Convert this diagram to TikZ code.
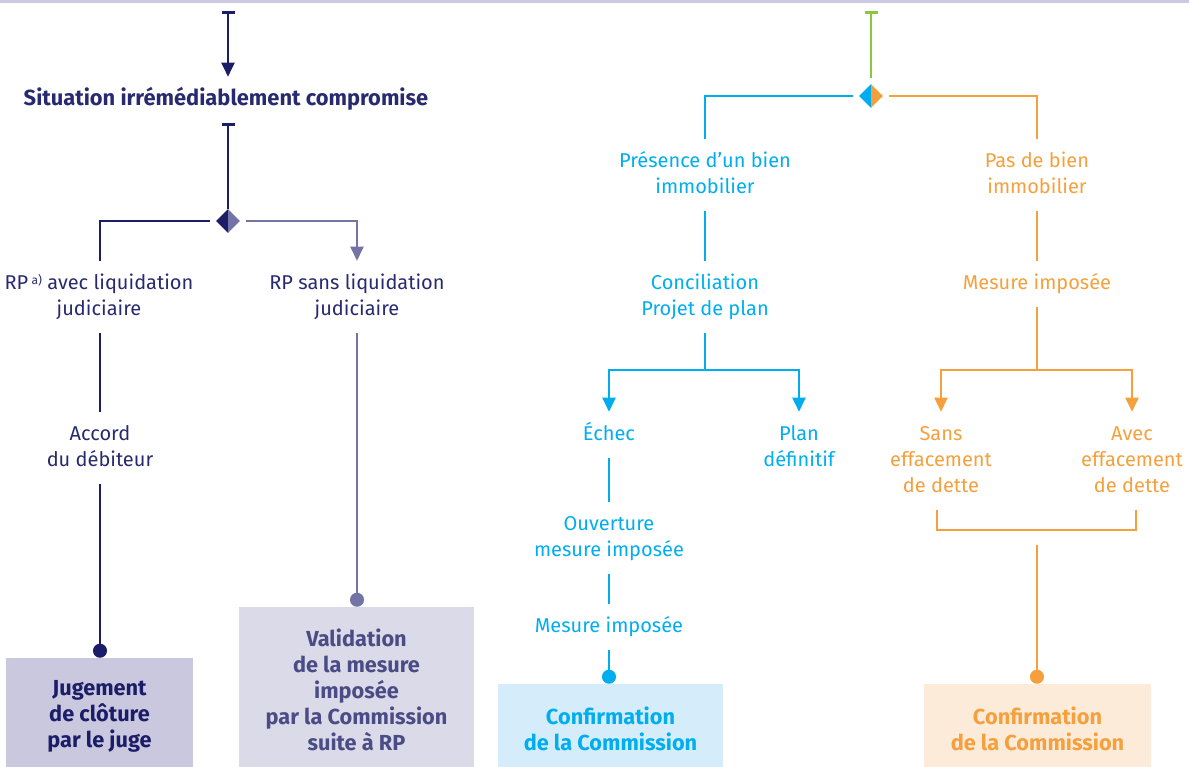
\documentclass[tikz,border=0pt]{standalone}
\usepackage{fontspec}
\setmainfont{Fira Sans}
\usetikzlibrary{arrows.meta,shapes.geometric}
\definecolor{navy}{RGB}{27,29,104}
\definecolor{navytext}{RGB}{40,42,112}
\definecolor{purp}{RGB}{116,115,166}
\definecolor{purptext}{RGB}{75,75,133}
\definecolor{boxA}{RGB}{201,200,222}
\definecolor{boxB}{RGB}{219,218,232}
\definecolor{cyanc}{RGB}{0,174,239}
\definecolor{boxC}{RGB}{213,237,250}
\definecolor{orng}{RGB}{245,160,60}
\definecolor{boxD}{RGB}{253,235,218}
\definecolor{grn}{RGB}{140,198,63}
\definecolor{topline}{RGB}{202,202,224}
\begin{document}
\begin{tikzpicture}[x=0.75pt,y=-0.75pt,
  lbl/.style={align=center,font=\fontsize{15}{19.5}\selectfont,inner xsep=0pt,inner ysep=7.5pt,yshift=-1.5pt},
  blbl/.style={lbl,font=\fontsize{16.4}{19.5}\selectfont\bfseries},
  conn/.style={line width=1.5pt},
  tri/.style={-{Triangle[length=10.5pt,width=9.75pt]}},
  barstart/.style={{Bar[width=9.75pt,line width=2.25pt]}-},
  topar/.style={{Bar[width=9.75pt,line width=2.25pt]}-{Triangle[length=10.5pt,width=9.75pt]}},
  dotend/.style={-{Circle[length=10.5pt]}},
  fbox/.style={align=center,font=\fontsize{16.3}{19.5}\selectfont\bfseries,inner sep=0pt},
  dia/.style={diamond,minimum width=17.25pt,minimum height=17.25pt,inner sep=0pt},
  gapstart/.style={shorten <=4.5pt}
]
\path[use as bounding box] (0,0) rectangle (1189,767);
\fill[topline] (0,0) rectangle (1189,3);

% ---------- left part ----------
\coordinate (tL) at (228,11);
\node[blbl,text=navytext] (sit) at (226,98) {\strut Situation irrémédiablement compromise};
\node[dia] (d1) at (228,221) {};
\fill[navy] (d1.north) -- (d1.west) -- (d1.south) -- cycle;
\fill[purp] (d1.north) -- (d1.east) -- (d1.south) -- cycle;

\node[lbl,text=navytext] (n1) at (99,295) {\strut RP\,{\fontsize{9}{9}\selectfont\raisebox{0.7ex}{a)}} avec liquidation\\\strut judiciaire};
\node[lbl,text=navytext] (n2) at (357,295) {\strut RP sans liquidation\\\strut judiciaire};
\node[lbl,text=navytext] (n3) at (100,446) {\strut Accord\\\strut du débiteur};

% boxes: taller than the page at the bottom, so the text sits where the reference has it
\node[fbox,fill=boxA,text=navy,minimum width=140.25pt,minimum height=87pt] (b1) at (99.5,716) {Jugement\\de clôture\\par le juge};
\node[fbox,fill=boxB,text=purptext,minimum width=176.25pt,minimum height=124.5pt] (b2) at (356.5,690) {Validation\\de la mesure\\imposée\\par la Commission\\suite à RP};

\draw[conn,navy,topar] (tL) -- (tL |- sit.north);
\draw[conn,navy,barstart] (sit.south -| d1) -- (d1.north);
\draw[conn,navy,gapstart] (d1.west) -| (n3.north |- n1.north);
\draw[conn,purp,tri,gapstart] (d1.east) -| (n2.north);
\draw[conn,navy] (n3.north |- n1.south) -- (n3.north);
\draw[conn,navy,dotend] (n3.south) -- (n3.south |- b1.north);
\draw[conn,purp,dotend] (n2.south) -- (n2.south |- b2.north);

% ---------- right part ----------
\coordinate (tR) at (871,11);
\node[dia] (d2) at (871,96) {};
\fill[cyanc] (d2.north) -- (d2.west) -- (d2.south) -- cycle;
\fill[orng] (d2.north) -- (d2.east) -- (d2.south) -- cycle;

\node[lbl,text=cyanc] (c1) at (705,173) {\strut Présence d’un bien\\\strut immobilier};
\node[lbl,text=cyanc] (c2) at (705,295) {\strut Conciliation\\\strut Projet de plan};
\node[lbl,text=cyanc] (c3) at (609,433) {\strut Échec};
\node[lbl,text=cyanc] (c4) at (799,446) {\strut Plan\\\strut définitif};
\node[lbl,text=cyanc] (c5) at (609,536) {\strut Ouverture\\\strut mesure imposée};
\node[lbl,text=cyanc] (c6) at (609,625) {\strut Mesure imposée};
\coordinate (jc) at (705,370);

\node[lbl,text=orng] (o1) at (1037,173) {\strut Pas de bien\\\strut immobilier};
\node[lbl,text=orng] (o2) at (1037,282) {\strut Mesure imposée};
\node[lbl,text=orng] (o3) at (941,459) {\strut Sans\\\strut effacement\\\strut de dette};
\node[lbl,text=orng] (o4) at (1132,459) {\strut Avec\\\strut effacement\\\strut de dette};
\coordinate (jo) at (1037,370);
\coordinate (jb) at (1037,530);
\coordinate (jb2) at (1037,545);

\node[fbox,fill=boxC,text=cyanc,minimum width=168.75pt,minimum height=67.5pt] (b3) at (610.5,729) {Confirmation\\de la Commission};
\node[fbox,fill=boxD,text=orng,minimum width=170.25pt,minimum height=67.5pt] (b4) at (1037.5,729) {Confirmation\\de la Commission};

\draw[conn,grn,barstart,shorten >=4.5pt] (tR) -- (d2.north);
\draw[conn,cyanc,gapstart] (d2.west) -| (c1.north);
\draw[conn,orng,gapstart] (d2.east) -| (o1.north);

\draw[conn,cyanc] (c1.south) -- (c2.north);
\draw[conn,cyanc] (c2.south) -- (jc);
\draw[conn,cyanc,tri] (jc) -| (c3.north);
\draw[conn,cyanc,tri] (jc) -| (c4.north);
\draw[conn,cyanc] (c3.south) -- (c5.north);
\draw[conn,cyanc] (c5.south) -- (c6.north);
\draw[conn,cyanc,dotend] (c6.south) -- (c6.south |- b3.north);

\draw[conn,orng] (o1.south) -- (o2.north);
\draw[conn,orng] (o2.south) -- (jo);
\draw[conn,orng,tri] (jo) -| (o3.north);
\draw[conn,orng,tri] (jo) -| (o4.north);
\draw[conn,orng] ([xshift=-3pt]o3.south) |- (jb) -| ([xshift=3pt]o4.south);
\draw[conn,orng,dotend] (jb2) -- (jb2 |- b4.north);
\end{tikzpicture}
\end{document}
